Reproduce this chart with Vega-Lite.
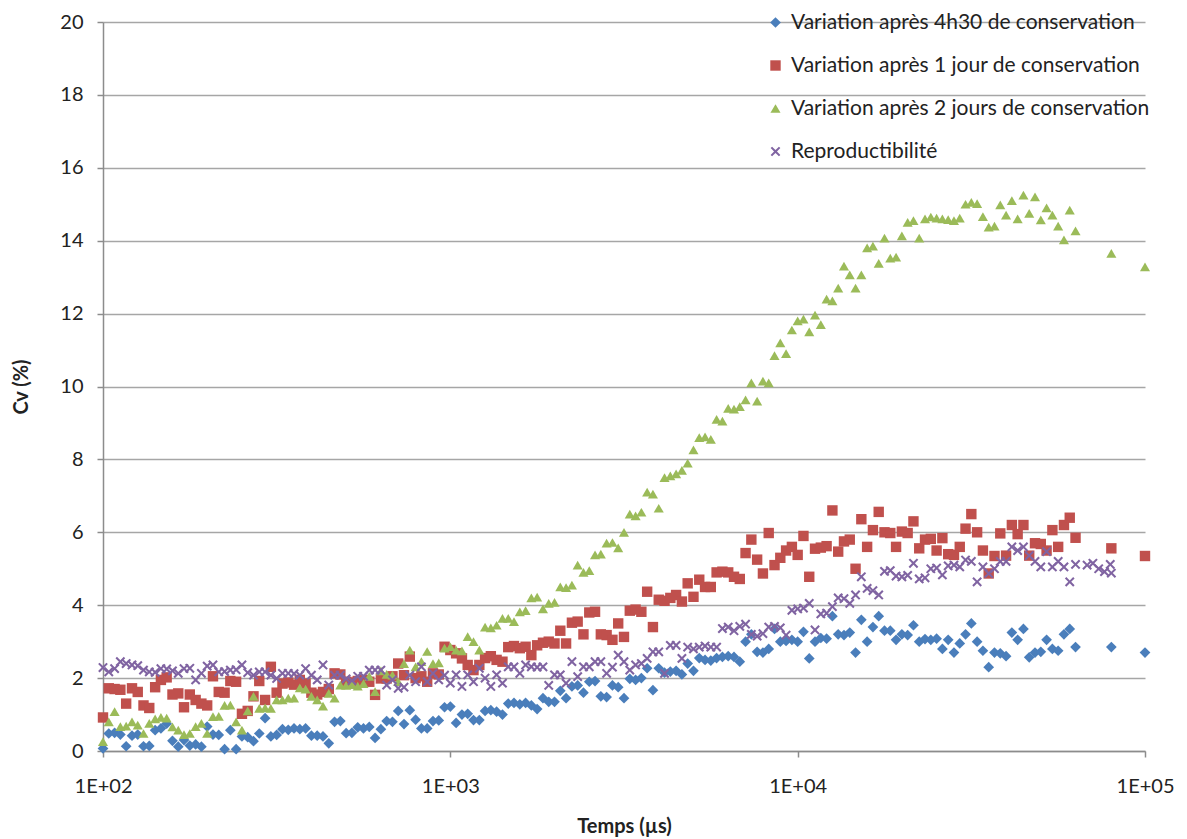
{
"$schema": "https://vega.github.io/schema/vega-lite/v6.json",
"autosize": {"type": "none"},
"padding": {"left": 103, "top": 22, "right": 42, "bottom": 88},
"width": 1042,
"height": 729,
"background": "white",
"config": {"view": {"stroke": null}, "font": "Lato"},
"data": {"values": [
{"t":100,"a":0.07,"b":0.92,"c":0.26,"d":2.29},
{"t":103.9,"a":0.48,"b":1.72,"c":0.80,"d":2.17},
{"t":108,"a":0.50,"b":1.70,"c":1.08,"d":2.26},
{"t":112.2,"a":0.45,"b":1.68,"c":0.67,"d":2.45},
{"t":116.6,"a":0.13,"b":1.30,"c":0.68,"d":2.40},
{"t":121.2,"a":0.42,"b":1.72,"c":0.80,"d":2.36},
{"t":125.9,"a":0.45,"b":1.62,"c":0.71,"d":2.34},
{"t":130.8,"a":0.13,"b":1.25,"c":0.48,"d":2.22},
{"t":135.9,"a":0.14,"b":1.18,"c":0.76,"d":2.17},
{"t":141.3,"a":0.57,"b":1.75,"c":0.88,"d":2.16},
{"t":146.8,"a":0.62,"b":1.95,"c":0.92,"d":2.26},
{"t":152.5,"a":0.75,"b":2.02,"c":0.90,"d":2.25},
{"t":158.5,"a":0.28,"b":1.55,"c":0.66,"d":2.20},
{"t":164.7,"a":0.12,"b":1.58,"c":0.57,"d":2.13},
{"t":171.1,"a":0.30,"b":1.20,"c":0.45,"d":2.26},
{"t":177.8,"a":0.15,"b":1.55,"c":0.48,"d":2.27},
{"t":184.8,"a":0.18,"b":1.40,"c":0.67,"d":1.95},
{"t":192,"a":0.12,"b":1.30,"c":0.76,"d":2.13},
{"t":199.5,"a":0.67,"b":1.25,"c":0.48,"d":2.33},
{"t":207.3,"a":0.45,"b":2.05,"c":0.94,"d":2.36},
{"t":215.4,"a":0.44,"b":1.62,"c":0.95,"d":2.17},
{"t":223.9,"a":0.05,"b":1.60,"c":1.25,"d":2.18},
{"t":232.6,"a":0.57,"b":1.92,"c":1.26,"d":2.22},
{"t":241.7,"a":0.05,"b":1.90,"c":0.80,"d":2.23},
{"t":251.2,"a":0.40,"b":1.02,"c":0.57,"d":2.36},
{"t":261,"a":0.38,"b":1.10,"c":1.10,"d":2.15},
{"t":271.2,"a":0.27,"b":1.50,"c":1.50,"d":2.08},
{"t":281.8,"a":0.48,"b":1.92,"c":1.17,"d":2.17},
{"t":292.9,"a":0.90,"b":1.40,"c":1.18,"d":2.17},
{"t":304.3,"a":0.40,"b":2.31,"c":1.17,"d":2.08},
{"t":316.2,"a":0.44,"b":1.60,"c":1.40,"d":1.99},
{"t":328.6,"a":0.60,"b":1.85,"c":1.40,"d":2.13},
{"t":341.5,"a":0.58,"b":1.88,"c":1.45,"d":2.13},
{"t":354.8,"a":0.62,"b":1.82,"c":1.45,"d":2.12},
{"t":368.7,"a":0.60,"b":1.95,"c":1.73,"d":2.08},
{"t":383.1,"a":0.62,"b":1.85,"c":1.70,"d":2.26},
{"t":398.1,"a":0.42,"b":1.60,"c":1.50,"d":2.08},
{"t":413.7,"a":0.42,"b":1.55,"c":1.40,"d":1.95},
{"t":429.9,"a":0.40,"b":1.62,"c":1.23,"d":2.36},
{"t":446.7,"a":0.21,"b":1.70,"c":1.58,"d":1.81},
{"t":464.2,"a":0.80,"b":2.13,"c":1.45,"d":2.08},
{"t":482.3,"a":0.82,"b":2.10,"c":1.81,"d":2.08},
{"t":501.2,"a":0.49,"b":1.90,"c":1.80,"d":1.98},
{"t":520.8,"a":0.50,"b":1.88,"c":1.82,"d":1.93},
{"t":541.2,"a":0.65,"b":1.92,"c":1.78,"d":2.05},
{"t":562.3,"a":0.62,"b":1.95,"c":1.85,"d":2.05},
{"t":584.3,"a":0.66,"b":1.90,"c":2.05,"d":2.22},
{"t":607.2,"a":0.36,"b":1.54,"c":1.63,"d":2.22},
{"t":631,"a":0.60,"b":1.99,"c":2.20,"d":2.22},
{"t":655.7,"a":0.82,"b":1.99,"c":2.10,"d":1.81},
{"t":681.3,"a":0.80,"b":2.05,"c":2.08,"d":1.95},
{"t":707.9,"a":1.10,"b":2.40,"c":1.90,"d":1.72},
{"t":735.6,"a":0.74,"b":2.08,"c":2.40,"d":1.75},
{"t":764.4,"a":1.12,"b":2.59,"c":2.77,"d":2.08},
{"t":794.3,"a":0.86,"b":2.00,"c":2.31,"d":1.90},
{"t":825.4,"a":0.62,"b":2.05,"c":2.45,"d":2.31},
{"t":857.7,"a":0.62,"b":1.90,"c":2.73,"d":1.90},
{"t":891.3,"a":0.82,"b":2.13,"c":2.40,"d":2.13},
{"t":926.1,"a":0.84,"b":2.10,"c":2.42,"d":1.95},
{"t":962.4,"a":1.20,"b":2.86,"c":2.82,"d":2.08},
{"t":1000,"a":1.22,"b":2.77,"c":2.86,"d":1.86},
{"t":1039,"a":0.77,"b":2.68,"c":2.77,"d":2.09},
{"t":1080,"a":1.00,"b":2.54,"c":2.75,"d":1.77},
{"t":1122,"a":1.02,"b":2.36,"c":3.14,"d":2.09},
{"t":1166,"a":0.85,"b":2.22,"c":3.00,"d":1.90},
{"t":1212,"a":0.85,"b":2.36,"c":2.77,"d":2.27},
{"t":1259,"a":1.10,"b":2.55,"c":3.40,"d":2.00},
{"t":1308,"a":1.12,"b":2.60,"c":3.38,"d":1.77},
{"t":1359,"a":1.08,"b":2.50,"c":3.45,"d":2.09},
{"t":1413,"a":1.00,"b":2.45,"c":3.64,"d":1.86},
{"t":1468,"a":1.30,"b":2.85,"c":3.64,"d":2.31},
{"t":1525,"a":1.32,"b":2.88,"c":3.55,"d":2.31},
{"t":1585,"a":1.28,"b":2.82,"c":3.82,"d":2.13},
{"t":1647,"a":1.32,"b":2.86,"c":3.85,"d":2.36},
{"t":1711,"a":1.25,"b":2.63,"c":4.20,"d":2.31},
{"t":1778,"a":1.15,"b":2.90,"c":4.22,"d":2.30},
{"t":1848,"a":1.45,"b":2.97,"c":3.90,"d":2.31},
{"t":1920,"a":1.35,"b":3.00,"c":4.05,"d":1.80},
{"t":1995,"a":1.35,"b":2.95,"c":4.08,"d":2.09},
{"t":2073,"a":1.65,"b":3.30,"c":4.50,"d":2.09},
{"t":2154,"a":1.45,"b":2.95,"c":4.48,"d":1.86},
{"t":2239,"a":1.77,"b":3.52,"c":4.55,"d":2.45},
{"t":2326,"a":1.80,"b":3.55,"c":5.10,"d":2.04},
{"t":2417,"a":1.60,"b":3.20,"c":4.90,"d":2.31},
{"t":2512,"a":1.90,"b":3.80,"c":4.95,"d":2.31},
{"t":2610,"a":1.92,"b":3.82,"c":5.38,"d":2.45},
{"t":2712,"a":1.50,"b":3.20,"c":5.40,"d":2.45},
{"t":2818,"a":1.48,"b":3.18,"c":5.70,"d":2.13},
{"t":2929,"a":1.80,"b":3.05,"c":5.72,"d":2.30},
{"t":3043,"a":1.75,"b":3.50,"c":5.57,"d":2.63},
{"t":3162,"a":1.45,"b":3.13,"c":6.00,"d":2.45},
{"t":3286,"a":1.98,"b":3.85,"c":6.50,"d":2.22},
{"t":3415,"a":1.95,"b":3.88,"c":6.45,"d":2.36},
{"t":3548,"a":2.00,"b":3.82,"c":6.55,"d":2.40},
{"t":3687,"a":2.27,"b":4.37,"c":7.10,"d":2.54},
{"t":3831,"a":1.67,"b":3.40,"c":7.05,"d":2.72},
{"t":3981,"a":2.27,"b":4.15,"c":6.66,"d":2.72},
{"t":4137,"a":2.15,"b":4.12,"c":7.50,"d":2.13},
{"t":4299,"a":2.18,"b":4.20,"c":7.55,"d":2.90},
{"t":4467,"a":2.20,"b":4.28,"c":7.60,"d":2.90},
{"t":4642,"a":2.10,"b":4.10,"c":7.70,"d":2.54},
{"t":4823,"a":2.40,"b":4.60,"c":7.90,"d":2.85},
{"t":5012,"a":2.20,"b":4.23,"c":8.26,"d":2.80},
{"t":5208,"a":2.55,"b":4.70,"c":8.60,"d":2.85},
{"t":5412,"a":2.50,"b":4.50,"c":8.62,"d":2.88},
{"t":5623,"a":2.48,"b":4.50,"c":8.55,"d":2.85},
{"t":5843,"a":2.55,"b":4.90,"c":9.10,"d":2.85},
{"t":6072,"a":2.58,"b":4.92,"c":9.05,"d":3.36},
{"t":6310,"a":2.60,"b":4.90,"c":9.40,"d":3.40},
{"t":6557,"a":2.58,"b":4.78,"c":9.38,"d":3.30},
{"t":6813,"a":2.45,"b":4.72,"c":9.45,"d":3.42},
{"t":7079,"a":3.00,"b":5.43,"c":9.63,"d":3.48},
{"t":7356,"a":3.20,"b":5.80,"c":10.10,"d":3.20},
{"t":7644,"a":2.72,"b":5.25,"c":9.60,"d":3.15},
{"t":7943,"a":2.70,"b":4.87,"c":10.15,"d":3.22},
{"t":8254,"a":2.80,"b":5.98,"c":10.10,"d":3.40},
{"t":8577,"a":3.35,"b":5.10,"c":10.85,"d":3.42},
{"t":8913,"a":3.00,"b":5.30,"c":11.20,"d":3.38},
{"t":9261,"a":3.02,"b":5.50,"c":10.90,"d":3.18},
{"t":9624,"a":3.05,"b":5.60,"c":11.55,"d":3.86},
{"t":10000,"a":3.00,"b":5.38,"c":11.80,"d":3.90},
{"t":10391,"a":3.27,"b":5.90,"c":11.85,"d":3.92},
{"t":10798,"a":2.54,"b":4.78,"c":11.50,"d":4.05},
{"t":11220,"a":3.00,"b":5.55,"c":11.96,"d":3.32},
{"t":11659,"a":3.10,"b":5.58,"c":11.70,"d":3.76},
{"t":12115,"a":3.08,"b":5.62,"c":12.40,"d":3.78},
{"t":12589,"a":3.70,"b":6.60,"c":12.35,"d":3.96},
{"t":13082,"a":3.20,"b":5.47,"c":12.70,"d":4.20},
{"t":13594,"a":3.18,"b":5.75,"c":13.30,"d":4.18},
{"t":14125,"a":3.25,"b":5.80,"c":13.06,"d":4.05},
{"t":14678,"a":2.70,"b":5.00,"c":12.70,"d":4.28},
{"t":15252,"a":3.60,"b":6.36,"c":13.06,"d":4.78},
{"t":15849,"a":3.00,"b":5.60,"c":13.80,"d":4.46},
{"t":16469,"a":3.40,"b":6.06,"c":13.85,"d":4.40},
{"t":17113,"a":3.70,"b":6.56,"c":13.38,"d":4.28},
{"t":17783,"a":3.30,"b":6.00,"c":14.07,"d":4.93},
{"t":18478,"a":3.30,"b":5.98,"c":13.52,"d":4.95},
{"t":19201,"a":3.05,"b":5.60,"c":13.55,"d":4.80},
{"t":19953,"a":3.20,"b":6.02,"c":14.13,"d":4.78},
{"t":20733,"a":3.18,"b":5.98,"c":14.50,"d":4.82},
{"t":21544,"a":3.45,"b":6.30,"c":14.55,"d":5.15},
{"t":22387,"a":3.00,"b":5.56,"c":14.07,"d":4.72},
{"t":23263,"a":3.07,"b":5.80,"c":14.60,"d":4.75},
{"t":24173,"a":3.05,"b":5.82,"c":14.65,"d":5.00},
{"t":25119,"a":3.08,"b":5.50,"c":14.62,"d":5.02},
{"t":26102,"a":2.80,"b":5.84,"c":14.60,"d":4.83},
{"t":27123,"a":3.05,"b":5.40,"c":14.58,"d":5.08},
{"t":28184,"a":2.70,"b":5.38,"c":14.55,"d":5.10},
{"t":29286,"a":2.95,"b":5.60,"c":14.62,"d":5.05},
{"t":30432,"a":3.20,"b":6.10,"c":15.00,"d":5.24},
{"t":31623,"a":3.50,"b":6.50,"c":15.05,"d":5.20},
{"t":32860,"a":3.00,"b":6.00,"c":15.02,"d":4.64},
{"t":34145,"a":2.75,"b":5.50,"c":14.66,"d":5.05},
{"t":35481,"a":2.30,"b":4.87,"c":14.37,"d":4.87},
{"t":36869,"a":2.70,"b":5.35,"c":14.40,"d":5.00},
{"t":38312,"a":2.68,"b":5.97,"c":14.98,"d":5.20},
{"t":39811,"a":2.60,"b":5.36,"c":14.70,"d":5.20},
{"t":41368,"a":3.25,"b":6.20,"c":15.10,"d":5.60},
{"t":42987,"a":3.05,"b":5.95,"c":14.60,"d":5.50},
{"t":44668,"a":3.35,"b":6.20,"c":15.25,"d":5.60},
{"t":46416,"a":2.57,"b":5.36,"c":14.75,"d":5.36},
{"t":48232,"a":2.70,"b":5.70,"c":15.20,"d":5.20},
{"t":50119,"a":2.72,"b":5.68,"c":14.57,"d":5.05},
{"t":52080,"a":3.05,"b":5.50,"c":14.90,"d":5.47},
{"t":54117,"a":2.80,"b":6.06,"c":14.70,"d":5.05},
{"t":56234,"a":2.75,"b":5.60,"c":14.40,"d":5.20},
{"t":58434,"a":3.20,"b":6.20,"c":14.02,"d":5.05},
{"t":60720,"a":3.35,"b":6.40,"c":14.84,"d":4.64},
{"t":63096,"a":2.85,"b":5.85,"c":14.27,"d":5.12},
{"t":68129,"d":5.10},
{"t":70795,"d":5.15},
{"t":73564,"d":5.00},
{"t":76442,"d":4.92},
{"t":79433,"d":5.12},
{"t":80000,"a":2.85,"b":5.56,"c":13.65,"d":4.88},
{"t":100000,"a":2.70,"b":5.35,"c":13.28}
]},
"transform": [
  {"fold": ["a", "b", "c", "d"], "as": ["k", "v"]},
  {"filter": "isValid(datum.v)"}
],
"mark": {"type": "point", "filled": true, "opacity": 1, "strokeWidth": 0},
"encoding": {
  "x": {"field": "t", "type": "quantitative",
    "scale": {"type": "log", "domain": [100, 100000], "nice": false},
    "axis": {"values": [100, 1000, 10000, 100000], "grid": false,
      "labelExpr": "datum.value == 100 ? '1E+02' : datum.value == 1000 ? '1E+03' : datum.value == 10000 ? '1E+04' : '1E+05'",
      "title": "Temps (µs)", "titleFontSize": 20, "titleFontWeight": "bold", "titleColor": "#222", "titlePadding": 20,
      "labelFontSize": 20, "labelColor": "#222", "labelPadding": 19, "labelFlush": false,
      "domainColor": "#8c8c8c", "domainWidth": 1.5, "tickColor": "#8c8c8c", "tickWidth": 1.5, "tickSize": 6}},
  "y": {"field": "v", "type": "quantitative",
    "scale": {"domain": [0, 20], "nice": false},
    "axis": {"values": [0, 2, 4, 6, 8, 10, 12, 14, 16, 18, 20], "grid": true,
      "gridColor": "#a6a6a6", "gridWidth": 1.5,
      "title": "Cv (%)", "titleFontSize": 20, "titleFontWeight": "bold", "titleColor": "#222", "titlePadding": 28,
      "labelFontSize": 20, "labelColor": "#222", "labelPadding": 14,
      "domainColor": "#8c8c8c", "domainWidth": 1.5, "tickColor": "#8c8c8c", "tickWidth": 1.5, "tickSize": 6}},
  "color": {"field": "k", "type": "nominal",
    "scale": {"domain": ["a", "b", "c", "d"], "range": ["#4a7ebb", "#c0504d", "#9bbb59", "#8064a2"]},
    "legend": {"orient": "none", "legendX": 662, "legendY": -10, "title": null,
      "labelExpr": "datum.value == 'a' ? 'Variation après 4h30 de conservation' : datum.value == 'b' ? 'Variation après 1 jour de conservation' : datum.value == 'c' ? 'Variation après 2 jours de conservation' : 'Reproductibilité'",
      "labelFontSize": 21, "labelColor": "#222", "labelLimit": 600, "labelOffset": 5,
      "rowPadding": 21, "symbolSize": 55, "symbolStrokeWidth": 0}},
  "shape": {"field": "k", "type": "nominal",
    "scale": {"domain": ["a", "b", "c", "d"], "range": ["diamond", "square", "triangle-up", "M-1,-0.7L-0.7,-1L0,-0.3L0.7,-1L1,-0.7L0.3,0L1,0.7L0.7,1L0,0.3L-0.7,1L-1,0.7L-0.3,0Z"]}},
  "size": {"field": "k", "type": "nominal",
    "scale": {"domain": ["a", "b", "c", "d"], "range": [115, 95, 110, 72]}, "legend": null},
  "order": {"field": "k"}
}
}
